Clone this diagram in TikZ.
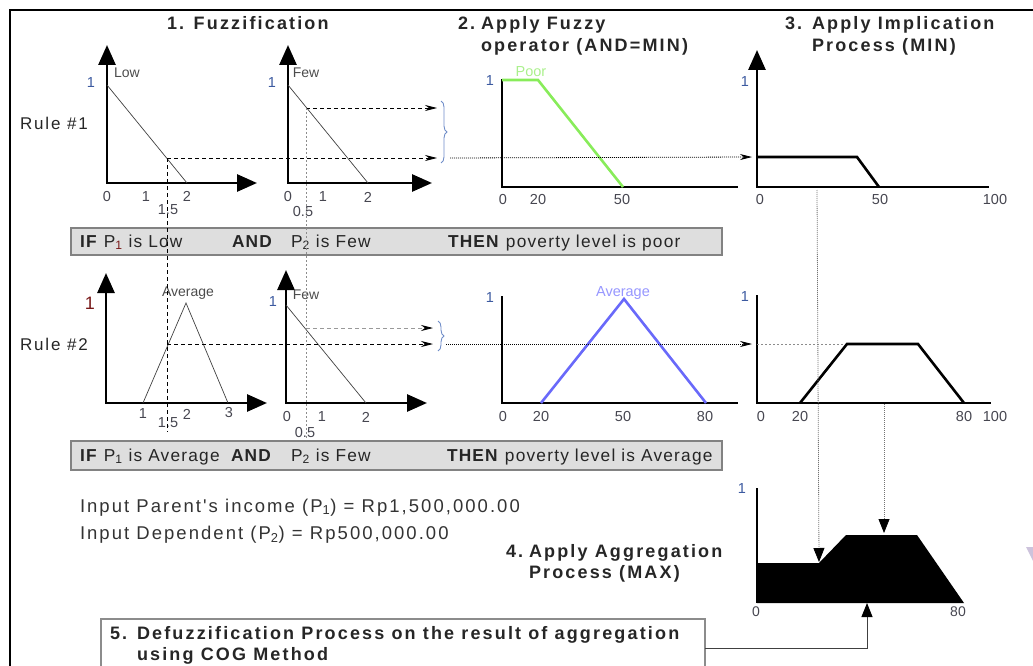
\documentclass[tikz,border=0pt]{standalone}
\usepackage{fontspec}
\setmainfont{Liberation Sans}
\newfontfamily\lsans[LetterSpace=11]{Liberation Sans}
\newfontfamily\bsans[LetterSpace=7]{Liberation Sans}
\newfontfamily\tsans[LetterSpace=12]{Liberation Sans}
\usetikzlibrary{arrows.meta,decorations.pathreplacing}
\definecolor{tickgray}{RGB}{70,70,80}
\definecolor{oneblue}{RGB}{60,90,160}
\definecolor{onered}{RGB}{120,25,25}
\definecolor{poorgreen}{RGB}{136,236,90}
\definecolor{poortext}{RGB}{170,240,140}
\definecolor{avgblue}{RGB}{105,105,250}
\definecolor{avgtext}{RGB}{150,150,255}
\definecolor{bracecol}{RGB}{110,140,200}
\definecolor{boxfill}{RGB}{222,222,222}
\definecolor{boxline}{RGB}{130,130,130}
\definecolor{faint}{RGB}{205,195,220}
\begin{document}
\begin{tikzpicture}[x=1pt,y=-1pt,
  every node/.style={inner sep=0pt,outer sep=0pt},
  ttl/.style={anchor=base west,font=\tsans\bfseries\fontsize{18}{21}\selectfont,text=black!85},
  body/.style={anchor=base west,font=\bsans\fontsize{17.3}{19}\selectfont,text=black!85},
  inp/.style={anchor=base west,font=\lsans\fontsize{18.5}{22}\selectfont,text=black!80},
  tick/.style={font=\fontsize{14.5}{17}\selectfont,text=tickgray},
  one/.style={font=\fontsize{14.5}{17}\selectfont,text=oneblue},
  mflabel/.style={font=\fontsize{14}{16}\selectfont,text=black!70},
  axis/.style={line width=2.8pt,line cap=rect},
  axarrow/.style={line width=2.8pt,-{Triangle[length=20pt,width=17pt]}},
  shapeline/.style={line width=2.6pt,line join=miter},
  mf/.style={line width=0.7pt,black!75},
  dasharrow/.style={dash pattern=on 4pt off 3pt,line width=0.9pt,-{Stealth[length=12pt,width=6pt]}},
  dashline/.style={dash pattern=on 4pt off 3pt,line width=0.9pt},
  graydash/.style={dash pattern=on 2pt off 2pt,line width=0.9pt,black!45},
  grayarrow/.style={dash pattern=on 4pt off 3pt,line width=0.9pt,black!40,-{Stealth[length=12pt,width=6pt,black]}},
  dotarrow/.style={dash pattern=on 1pt off 1pt,line width=0.8pt,-{Stealth[length=12pt,width=6pt]}},
  dotdown/.style={dash pattern=on 1pt off 1pt,line width=0.8pt,black!55,-{Triangle[length=14pt,width=11pt,black]}},
  rulebox/.style={draw=boxline,fill=boxfill,line width=1.4pt},
  bracest/.style={draw=bracecol,line width=0.9pt,decorate,decoration={brace,amplitude=6pt}}
]
\useasboundingbox (0,0) rectangle (1033,666);
% frame
\draw[line width=2.6pt] (10,666) -- (10,10) -- (1033,10);
\fill[faint] (1026,547) -- (1033,547) -- (1033,561) -- cycle;

% titles
\node[ttl] (t1) at (167,30) {1. Fuzzification};
\node[ttl] (t2a) at (458,30) {2.};
\node[ttl] (t2b) at (481,30) {Apply Fuzzy};
\node[ttl] (t2c) at (481,52) {operator (AND=MIN)};
\node[ttl] (t3a) at (785,30) {3.};
\node[ttl] (t3b) at (812,30) {Apply Implication};
\node[ttl] (t3c) at (812,52) {Process (MIN)};
\node[ttl] (t4a) at (506,557) {4.};
\node[ttl] (t4b) at (529,557) {Apply Aggregation};
\node[ttl] (t4c) at (529,578) {Process (MAX)};

% rule labels
\node[anchor=base west,font=\lsans\fontsize{17}{19}\selectfont,text=black!85] (r1) at (20,130) {Rule \#1};
\node[anchor=base west,font=\lsans\fontsize{17}{19}\selectfont,text=black!85] (r2) at (20,350) {Rule \#2};

% rule boxes
\draw[rulebox] (71,228) rectangle (722,255);
\draw[rulebox] (71,441) rectangle (722,470);
\node[body] (r1a) at (80,247) {\textbf{IF} P\textsubscript{\textcolor{onered}{1}} is Low};
\node[body] (r1b) at (232,247) {\textbf{AND}};
\node[body] (r1c) at (291,247) {P\textsubscript{2} is Few};
\node[body] (r1d) at (448,247) {\textbf{THEN} poverty level is poor};
\node[body] (r2a) at (80,461) {\textbf{IF} P\textsubscript{1} is Average};
\node[body] (r2b) at (231,461) {\textbf{AND}};
\node[body] (r2c) at (291,461) {P\textsubscript{2} is Few};
\node[body] (r2d) at (447,461) {\textbf{THEN} poverty level is Average};

% ===== Rule 1, chart A1 (Low)
\coordinate (a1o) at (107,183);
\draw[axarrow] (a1o) -- (107,45);
\draw[axarrow] (a1o) -- (257,183);
\draw[axis] (107,150) -- (a1o) -- (200,183);
\draw[mf] (107,85) -- (187,183);
\node[one] (a1one) at (91,83) {1};
\node[mflabel] (a1lab) at (127,73) {Low};
\node[tick] (a1t0) at (107,197) {0};
\node[tick] (a1t1) at (146,197) {1};
\node[tick] (a1t2) at (187,196) {2};
\node[tick] (a1t15) at (168,210) {1.5};

% ===== Rule 1, chart B1 (Few)
\coordinate (b1o) at (288,183);
\draw[axarrow] (b1o) -- (288,45);
\draw[axarrow] (b1o) -- (432,183);
\draw[axis] (288,150) -- (b1o) -- (380,183);
\draw[mf] (288,85) -- (368,183);
\node[one] (b1one) at (272,83) {1};
\node[mflabel] (b1lab) at (306,73) {Few};
\node[tick] (b1t0) at (288,197) {0};
\node[tick] (b1t1) at (323,197) {1};
\node[tick] (b1t2) at (368,197) {2};
\node[tick] (b1t05) at (303,212) {0.5};

% ===== Rule 1, step 2 (Poor)
\draw[axis] (502,80) -- (502,187) -- (737,187);
\draw[shapeline,poorgreen] (502,80) -- (538,80) -- (623,187);
\node[one] (p1one) at (490,81) {1};
\node[font=\fontsize{14.5}{16}\selectfont,text=poortext] (poor) at (531,72) {Poor};
\node[tick] (p1t0) at (503,200) {0};
\node[tick] (p1t20) at (538,200) {20};
\node[tick] (p1t50) at (622,200) {50};

% ===== Rule 1, step 3
\coordinate (c1o) at (757,187);
\draw[axarrow] (c1o) -- (757,50);
\draw[axis] (757,150) -- (c1o) -- (988,187);
\draw[shapeline] (757,157) -- (857,157) -- (879,187);
\node[one] (c1one) at (745,82) {1};
\node[tick] (c1t0) at (760,200) {0};
\node[tick] (c1t50) at (880,200) {50};
\node[tick] (c1t100) at (995,200) {100};

% ===== Rule 2, chart A2 (Average)
\coordinate (a2o) at (106,403);
\draw[axarrow] (a2o) -- (106,273);
\draw[axarrow] (a2o) -- (267,403);
\draw[axis] (106,370) -- (a2o) -- (200,403);
\draw[mf] (143,403) -- (186,303) -- (228,403);
\node[font=\fontsize{18}{20}\selectfont,text=onered] (a2one) at (90,303) {1};
\node[mflabel] (a2lab) at (188,293) {Average};
\node[tick] (a2t1) at (143,414) {1};
\node[tick] (a2t2) at (187,414) {2};
\node[tick] (a2t3) at (229,413) {3};
\node[tick] (a2t15) at (168,423) {1.5};

% ===== Rule 2, chart B2 (Few)
\coordinate (b2o) at (286,403);
\draw[axarrow] (b2o) -- (286,270);
\draw[axarrow] (b2o) -- (427,403);
\draw[axis] (286,370) -- (b2o) -- (380,403);
\draw[mf] (286,305) -- (366,403);
\node[one] (b2one) at (273,302) {1};
\node[mflabel] (b2lab) at (306,295) {Few};
\node[tick] (b2t0) at (287,417) {0};
\node[tick] (b2t1) at (322,417) {1};
\node[tick] (b2t2) at (366,417) {2};
\node[tick] (b2t05) at (305,433) {0.5};

% ===== Rule 2, step 2 (Average)
\draw[axis] (502,297) -- (502,403) -- (737,403);
\draw[shapeline,avgblue] (541,403) -- (624,299) -- (706,403);
\node[one] (p2one) at (490,298) {1};
\node[font=\fontsize{14.5}{16}\selectfont,text=avgtext] (avg) at (623,293) {Average};
\node[tick] (p2t0) at (503,417) {0};
\node[tick] (p2t20) at (541,417) {20};
\node[tick] (p2t50) at (623,417) {50};
\node[tick] (p2t80) at (705,417) {80};

% ===== Rule 2, step 3
\draw[axis] (757,296) -- (757,403) -- (990,403);
\draw[graydash] (757,344) -- (847,344);
\draw[shapeline] (800,403) -- (847,344) -- (918,344) -- (964,403);
\node[one] (c2one) at (745,297) {1};
\node[tick] (c2t0) at (761,417) {0};
\node[tick] (c2t20) at (800,417) {20};
\node[tick] (c2t80) at (964,417) {80};
\node[tick] (c2t100) at (995,417) {100};

% ===== Aggregation
\coordinate (agtop) at (757,488);
\coordinate (agbase) at (867,603);
\coordinate (agstep) at (819,562);
\coordinate (agplat) at (884,533);
\fill (757,603) -- (757,563) -- (819,563) -- (846,535) -- (917,535) -- (964,603) -- cycle;
\draw[line width=2.6pt] (757,603) -- (agtop);
\node[one] (agone) at (742,489) {1};
\node[tick,font=\fontsize{14}{16}\selectfont] (ag0) at (756,612) {0};
\node[tick,font=\fontsize{14}{16}\selectfont] (ag80) at (958,612) {80};

% ===== connectors rule 1
\coordinate (a1x) at (167,158);
\coordinate (b1x) at (306,108);
\coordinate (br1hi) at (437,108);
\coordinate (br1lo) at (437,158);
\coordinate (br1out) at (450,158);
\coordinate (c1in) at (752,157);
\draw[dasharrow] (a1x) -- (br1lo);
\draw[dasharrow] (b1x) -- (br1hi);
\draw[bracest] (441,101) -- (441,163);
\draw[dotarrow] (br1out) -- (c1in);
% connectors rule 2
\coordinate (a2x) at (167,344);
\coordinate (b2x) at (306,328);
\coordinate (br2hi) at (433,328);
\coordinate (br2lo) at (433,344);
\coordinate (br2out) at (446,344);
\coordinate (c2in) at (752,344);
\draw[dasharrow] (a2x) -- (br2lo);
\draw[grayarrow] (b2x) -- (br2hi);
\draw[bracest] (438,321) -- (438,351);
\draw[dotarrow] (br2out) -- (c2in);
% vertical guides
\draw[dashline] (a1x) -- (167,432);
\draw[graydash] (b1x) -- (306,440);
% down to aggregation
\draw[dotdown] (817,190) -- (agstep);
\draw[dotdown] (884,404) -- (agplat);

% inputs
\node[inp] (in1) at (80,512) {Input Parent's income (P\textsubscript{1}) = Rp1,500,000.00};
\node[inp] (in2) at (80,539) {Input Dependent (P\textsubscript{2}) = Rp500,000.00};

% defuzzification box
\draw[draw=black!45,line width=1.2pt,fill=white] (101,670) -- (101,619) -- (705,619) -- (705,670);
\coordinate (boxout) at (705,648);
\node[ttl] (t5a) at (110,639) {5.};
\node[ttl] (t5b) at (137,639) {Defuzzification Process on the result of aggregation};
\node[ttl] (t5c) at (137,660) {using COG Method};
\draw[line width=1pt,black!75,-{Triangle[length=14pt,width=11pt,black]}] (boxout) -| (agbase);
\end{tikzpicture}
\end{document}
